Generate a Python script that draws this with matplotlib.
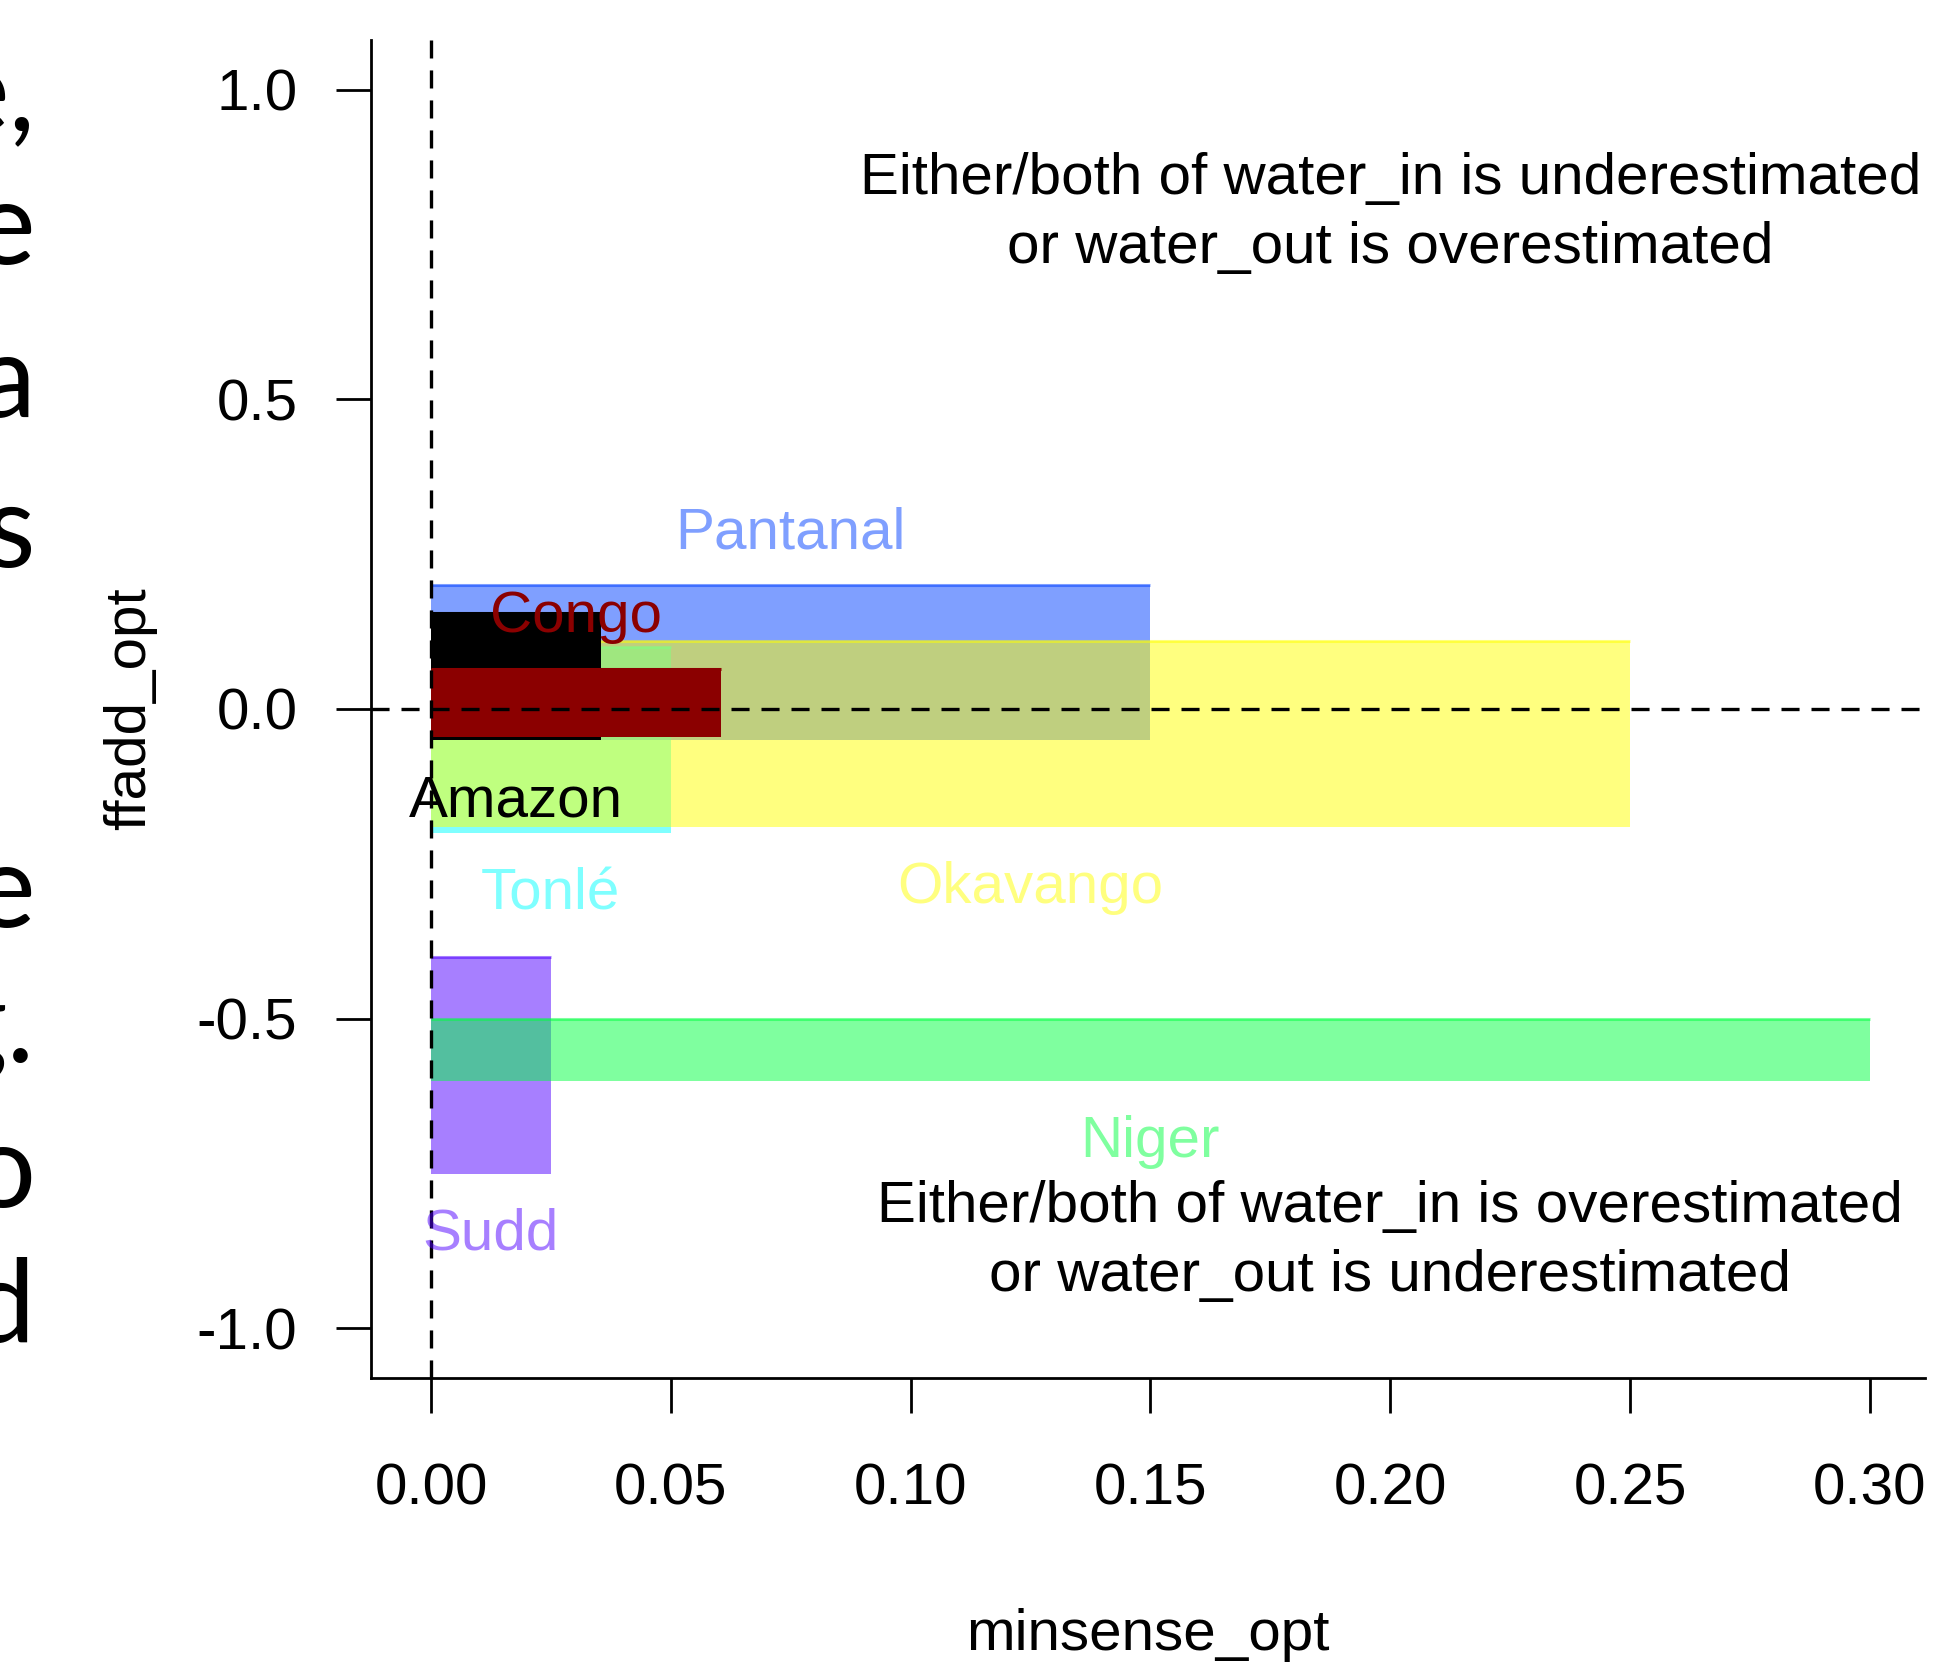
import matplotlib
matplotlib.use("Agg")
import matplotlib.pyplot as plt
from matplotlib.patches import Rectangle
import numpy as np

plt.rcParams["font.family"] = ["Liberation Sans", "DejaVu Sans"]
plt.rcParams["font.size"] = 42
plt.rcParams["lines.scale_dashes"] = False

# optimal parameter ranges per wetland (drawn in this order)
wetlands = ["Pantanal", "Tonlé", "Okavango", "Amazon", "Congo", "Sudd", "Niger"]
minsense_lo = [0.0, 0.0, 0.0, 0.0, 0.0, 0.0, 0.0]
minsense_hi = [0.15, 0.05, 0.25, 0.0355, 0.0605, 0.025, 0.30]
ffadd_lo = [-0.05, -0.20, -0.19, -0.05, -0.045, -0.75, -0.60]
ffadd_hi = [0.20, 0.10, 0.11, 0.155, 0.065, -0.40, -0.50]
wet_colors = ["#0040FF80", "#00FFFF80", "#FFFF0080", "#000000", "#8B0000",
              "#5000FF80", "#00FF4080"]
label_above = [True, False, False, False, True, False, False]

xticks = [0.00, 0.05, 0.10, 0.15, 0.20, 0.25, 0.30]
yticks = [-1.0, -0.5, 0.0, 0.5, 1.0]

note_top = "Either/both of water_in is underestimated\nor water_out is overestimated"
note_bottom = "Either/both of water_in is overestimated\nor water_out is underestimated"

# tail ends of the slide text cut off at the left edge
side_text = ["e,", "e", "a", "s", "e", "g.", "o", "d"]
side_baseline_px = [130, 264, 417, 567, 927, 1062, 1207, 1342]

W, H = 1960, 1663
fig = plt.figure(figsize=(W / 100, H / 100), dpi=100)
ax = fig.add_axes([371 / W, 285 / H, 1554 / W, 1338 / H])

for i, name in enumerate(wetlands):
    x0, x1 = minsense_lo[i], minsense_hi[i]
    y0, y1 = ffadd_lo[i], ffadd_hi[i]
    c = wet_colors[i]
    ax.add_patch(Rectangle((x0, y0), x1 - x0, y1 - y0, facecolor=c,
                           edgecolor="none", zorder=2))
    ax.plot([x0, x1], [y1, y1], color=c, lw=2.2, solid_capstyle="butt", zorder=2)

ax.axvline(0, color="black", lw=2.4, dashes=(13, 8.6), zorder=3)
ax.axhline(0, color="black", lw=2.4, dashes=(13, 8.6), zorder=3)

for i, name in enumerate(wetlands):
    xm = (minsense_lo[i] + minsense_hi[i]) / 2
    if label_above[i]:
        ax.annotate(name, (xm, ffadd_hi[i]), xytext=(0, 26.5), textcoords="offset points",
                    ha="center", va="baseline", color=wet_colors[i], zorder=4)
    else:
        ax.annotate(name, (xm, ffadd_lo[i]), xytext=(0, -55), textcoords="offset points",
                    ha="center", va="baseline", color=wet_colors[i], zorder=4)

ax.text(0.2, 0.8, note_top, ha="center", va="center", linespacing=1.37, zorder=4)
ax.text(0.2, -0.86, note_bottom, ha="center", va="center", linespacing=1.37, zorder=4)

ax.set_xlim(-0.0125, 0.3115)
ax.set_ylim(-1.08, 1.08)
ax.set_xticks(xticks)
ax.set_xticklabels([f"{v:.2f}" for v in xticks])
ax.set_yticks(yticks)
ax.set_yticklabels([f"{v:.1f}" for v in yticks])
ax.tick_params(axis="both", length=25, width=2, color="black")
ax.tick_params(axis="x", pad=36)
ax.tick_params(axis="y", pad=28)

for side in ["top", "right"]:
    ax.spines[side].set_visible(False)
for side in ["left", "bottom"]:
    ax.spines[side].set_linewidth(2)

ax.set_xlabel("minsense_opt", va="center")
ax.xaxis.set_label_coords(0.5, -0.192)
ax.set_ylabel("ffadd_opt", va="center")
ax.yaxis.set_label_coords(-0.155, 0.5)

for txt, base in zip(side_text, side_baseline_px):
    fig.text(35 / W, 1 - base / H, txt, ha="right", va="baseline",
             family=["Lato", "DejaVu Sans"], fontsize=84, color="black")

fig.savefig("out.png", dpi=100)
